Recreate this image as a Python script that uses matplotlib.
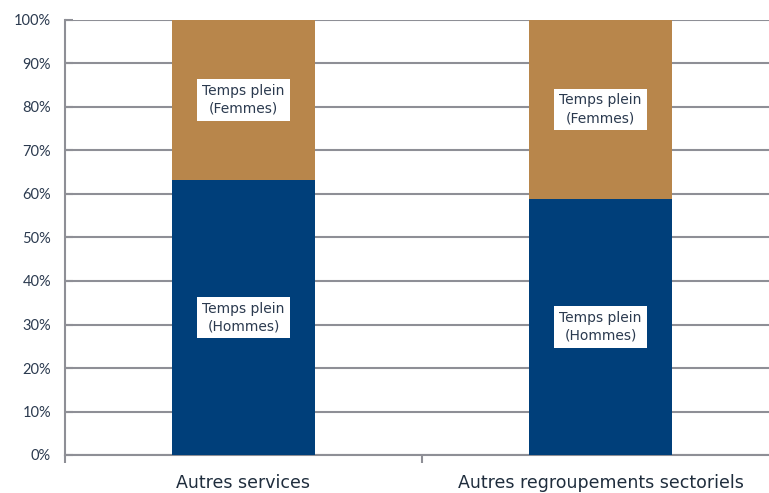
import matplotlib
matplotlib.use('Agg')
import matplotlib.pyplot as plt
from matplotlib.ticker import FixedLocator, PercentFormatter

# donnees
categories = ['Autres services', 'Autres regroupements sectoriels']
hommes = [63.2, 58.9]
femmes = [36.8, 41.1]
lab_hommes = 'Temps plein\n(Hommes)'
lab_femmes = 'Temps plein\n(Femmes)'

bleu = '#003f7a'
brun = '#b8864b'
gris = '#8e8f96'
texte = '#2b3a4f'

fig = plt.figure(figsize=(7.69, 4.93), dpi=100)
ax = fig.add_axes([65/769, 38/493, 714/769, 435/493])

x = range(len(categories))
b1 = ax.bar(x, hommes, width=0.4, color=bleu, zorder=3)
b2 = ax.bar(x, femmes, width=0.4, bottom=hommes, color=brun, zorder=3)

boite = dict(boxstyle='square,pad=0.35', fc='white', ec='none')
for i in x:
    ax.text(i, hommes[i]/2, lab_hommes, ha='center', va='center', fontsize=10,
            color=texte, bbox=boite, zorder=5, linespacing=1.35)
    ax.text(i, hommes[i] + femmes[i]/2, lab_femmes, ha='center', va='center', fontsize=10,
            color=texte, bbox=boite, zorder=5, linespacing=1.35)

ax.set_xlim(-0.5, 1.5)
ax.set_ylim(0, 100)
ax.set_yticks(range(0, 101, 10))
ax.yaxis.set_major_formatter(PercentFormatter(decimals=0))
ax.grid(axis='y', color=gris, linewidth=1.5, zorder=0)
ax.set_xticks(list(x))
ax.set_xticklabels(categories, fontsize=12.5, color='#1f2d3d')
ax.tick_params(axis='x', length=0, pad=14)
ax.xaxis.set_minor_locator(FixedLocator([-0.5, 0.5, 1.5]))
ax.tick_params(axis='x', which='minor', length=6, width=1.5, color=gris)
ax.tick_params(axis='y', length=6, width=1.5, color=gris, direction='in', labelsize=10.5,
               labelcolor=texte, pad=10)
for s in ['top', 'right']:
    ax.spines[s].set_visible(False)
for s in ['left', 'bottom']:
    ax.spines[s].set_color(gris)
    ax.spines[s].set_linewidth(1.5)

for t in ax.get_yticklabels():
    t.set_family('Lato')

fig.savefig('out.png', dpi=100)
